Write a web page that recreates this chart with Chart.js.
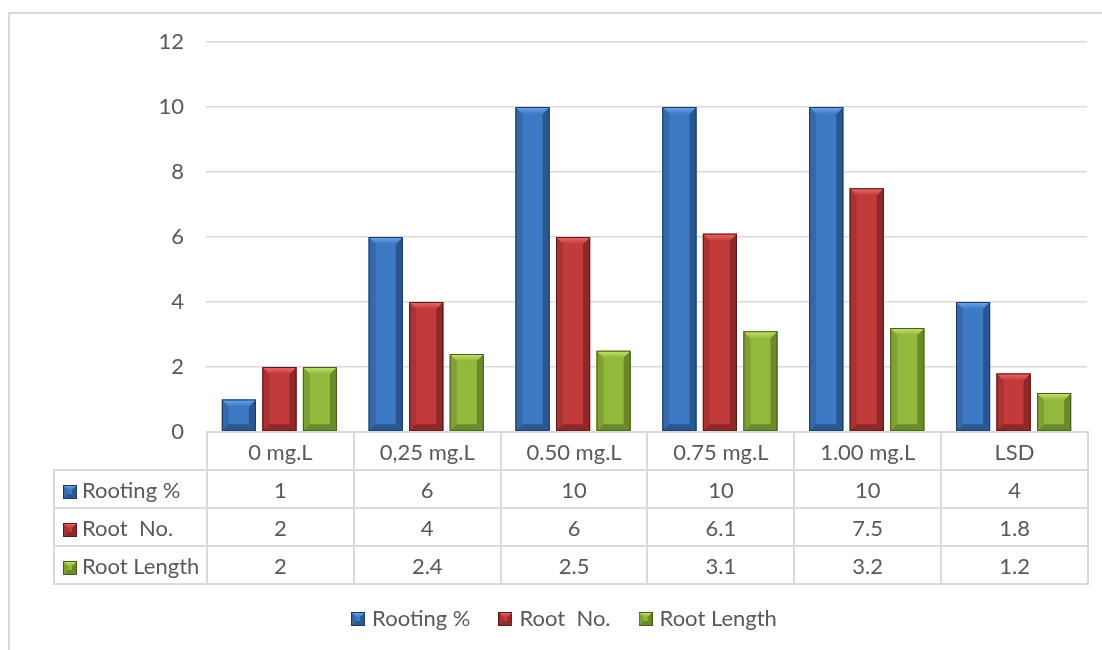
<!DOCTYPE html>
<html>
<head>
<meta charset="utf-8">
<script src="https://cdn.jsdelivr.net/npm/chart.js@4.4.1/dist/chart.umd.min.js"></script>
<style>
  html, body { margin: 0; padding: 0; background: #fff; }
  #wrap { position: relative; width: 1102px; height: 650px; overflow: hidden; }
  #frame { position: absolute; left: 8px; top: 12px; width: 1200px; height: 800px;
           border: 2px solid #d9d9d9; box-sizing: border-box; }
  #chart { position: absolute; left: 0; top: 0; }
  #dataTable { position: absolute; border-collapse: collapse; table-layout: fixed;
               font-family: Lato, sans-serif; font-size: 22px; color: #595959; }
  #dataTable td { border: 2px solid #dadada; text-align: center; padding: 0;
                  height: 36px; white-space: pre; }
  #dataTable td.blank { border: none; }
  #dataTable td.name { text-align: left; padding-left: 8px; }
  #dataTable td.name canvas { vertical-align: -1px; margin-right: 5px; }
</style>
</head>
<body>
<div id="wrap">
  <div id="frame"></div>
  <canvas id="chart" width="1102" height="650"></canvas>
  <table id="dataTable"></table>
</div>
<script>
const categories = ['0 mg.L', '0,25 mg.L', '0.50 mg.L', '0.75 mg.L', '1.00 mg.L', 'LSD'];
const seriesNames = ['Rooting %', 'Root  No.', 'Root Length'];
const rootingPct = [1, 6, 10, 10, 10, 4];
const rootNo = [2, 4, 6, 6.1, 7.5, 1.8];
const rootLength = [2, 2.4, 2.5, 3.1, 3.2, 1.2];

// shades for the bevelled bars: face, top highlight, left, right/bottom, outline
const palettes = [
    { body: '#3d79c4', light: '#6ea8ec', side: '#3569ab', dark: '#2b5791', edge: '#1e3a62' },
    { body: '#c23a39', light: '#ee6c6a', side: '#a93333', dark: '#8d2929', edge: '#5c1919' },
    { body: '#92b83c', light: '#c8e472', side: '#7fa134', dark: '#6a892b', edge: '#46601a' },
];

function bevelBox(ctx, left, top, w, h, pal, b) {
    const right = left + w, bottom = top + h;
    ctx.save();
    ctx.fillStyle = pal.body;
    ctx.fillRect(left, top, w, h);
    const poly = (pts, fill) => {
        ctx.beginPath();
        ctx.moveTo(pts[0][0], pts[0][1]);
        for (let i = 1; i < pts.length; i++) ctx.lineTo(pts[i][0], pts[i][1]);
        ctx.closePath();
        ctx.fillStyle = fill;
        ctx.fill();
    };
    poly([[left, top], [left + b, top + b], [left + b, bottom - b], [left, bottom]], pal.side);
    poly([[right, top], [right - b, top + b], [right - b, bottom - b], [right, bottom]], pal.dark);
    poly([[left, bottom], [left + b, bottom - b], [right - b, bottom - b], [right, bottom]], pal.dark);
    const g = ctx.createLinearGradient(0, top, 0, top + b);
    g.addColorStop(0, pal.light);
    g.addColorStop(1, pal.body);
    poly([[left, top], [right, top], [right - b, top + b], [left + b, top + b]], g);
    ctx.strokeStyle = pal.edge;
    ctx.lineWidth = 1;
    ctx.strokeRect(left + 0.5, top + 0.5, w - 1, h - 1);
    ctx.restore();
}

function markerCanvas(pal) {
    const c = document.createElement('canvas');
    c.width = 14;
    c.height = 14;
    bevelBox(c.getContext('2d'), 0, 0, 14, 14, pal, 5);
    return c;
}
const markers = palettes.map(markerCanvas);

const bevelBars = {
    id: 'bevelBars',
    afterDatasetsDraw(chart) {
        const ctx = chart.ctx;
        chart.data.datasets.forEach((ds, i) => {
            chart.getDatasetMeta(i).data.forEach(bar => {
                const { x, y, base, width } = bar.getProps(['x', 'y', 'base', 'width'], true);
                const h = base - y;
                const b = Math.min(7, h / 2, width / 4);
                bevelBox(ctx, x - width / 2, y, width, h, palettes[i], b);
            });
        });
    }
};

const allSeries = [rootingPct, rootNo, rootLength];

const chart = new Chart(document.getElementById('chart'), {
    type: 'bar',
    data: {
        labels: categories,
        datasets: allSeries.map((values, i) => ({
            label: seriesNames[i],
            data: values,
            backgroundColor: palettes[i].body,
            pointStyle: markers[i],
            categoryPercentage: 0.828,
            barPercentage: 0.84,
        })),
    },
    options: {
        responsive: false,
        animation: false,
        layout: { padding: { top: 42, right: 15, bottom: 10, left: 45 } },
        scales: {
            x: {
                ticks: { display: false },
                grid: { display: false },
                border: { display: false },
                // room for the data table between the plot and the legend
                afterFit: (scale) => { scale.height = 144; },
            },
            y: {
                min: 0,
                max: 12,
                ticks: {
                    stepSize: 2,
                    padding: 22,
                    color: '#595959',
                    font: { family: 'Lato', size: 22 },
                },
                grid: { color: '#d9d9d9', lineWidth: 1.5, drawTicks: false },
                border: { display: false },
                afterFit: (scale) => { scale.width = 161; },
            },
        },
        plugins: {
            legend: {
                position: 'bottom',
                labels: {
                    usePointStyle: true,
                    pointStyleWidth: 6,
                    boxWidth: 14,
                    padding: 32,
                    color: '#595959',
                    font: { family: 'Lato', size: 22 },
                },
            },
            tooltip: { enabled: false },
        },
    },
    plugins: [bevelBars],
});

// data table under the plot, lined up with the category columns
function buildTable() {
    const area = chart.chartArea;
    const colW = (area.right - area.left) / categories.length;
    const nameW = 153;
    const table = document.getElementById('dataTable');
    table.style.left = (area.left - nameW) + 'px';
    table.style.top = (area.bottom - 1) + 'px';
    table.style.width = (nameW + colW * categories.length) + 'px';

    let html = '<colgroup><col style="width:' + nameW + 'px">';
    categories.forEach(() => { html += '<col style="width:' + colW + 'px">'; });
    html += '</colgroup><tr><td class="blank"></td>';
    categories.forEach(c => { html += '<td>' + c + '</td>'; });
    html += '</tr>';
    allSeries.forEach((values, i) => {
        html += '<tr><td class="name"><span class="mk"></span>' + seriesNames[i] + '</td>';
        values.forEach(v => { html += '<td>' + v + '</td>'; });
        html += '</tr>';
    });
    table.innerHTML = html;
    table.querySelectorAll('span.mk').forEach((span, i) => span.replaceWith(markerCanvas(palettes[i])));
}
buildTable();
</script>
</body>
</html>
